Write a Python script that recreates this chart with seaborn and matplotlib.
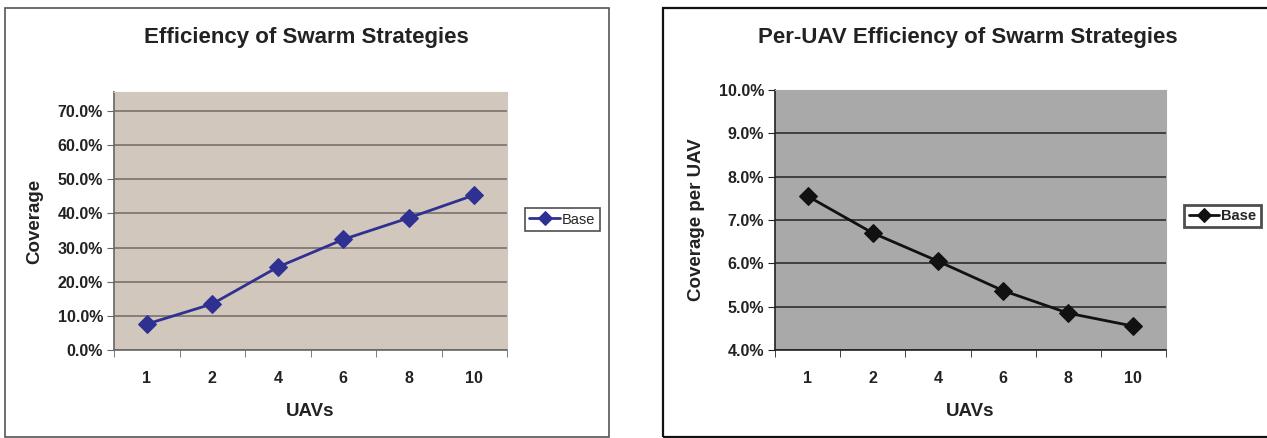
import numpy as np
import pandas as pd
import matplotlib
matplotlib.use('Agg')
import matplotlib.pyplot as plt
import matplotlib.patches as patches
from matplotlib.ticker import PercentFormatter, FixedLocator
import seaborn as sns

# Data
uavs = ['1', '2', '4', '6', '8', '10']
coverage = [7.6, 13.5, 24.3, 32.4, 38.7, 45.4]           # percent
coverage_per_uav = [7.55, 6.7, 6.05, 5.37, 4.85, 4.55]   # percent
series_name = 'Base'

sns.set_style('white')
plt.rcParams['font.family'] = ['Liberation Sans', 'DejaVu Sans']

W, H = 1267, 438
fig = plt.figure(figsize=(W / 100, H / 100), dpi=100)


def px_rect(x0, y0, x1, y1):
    # pixel box (top-left origin) -> figure fraction [l, b, w, h]
    return [x0 / W, (H - y1) / H, (x1 - x0) / W, (y1 - y0) / H]


# Panel borders
fig.patches.append(patches.Rectangle((5 / W, (H - 437) / H), 604 / W, 429 / H,
                                     transform=fig.transFigure, fill=False,
                                     edgecolor='#555555', linewidth=1.2))
fig.patches.append(patches.Rectangle((663 / W, (H - 437) / H), 700 / W, 429 / H,
                                     transform=fig.transFigure, fill=False,
                                     edgecolor='#111111', linewidth=1.6))


def draw_panel(rect, values, ylim, yticks, bg, line_color, grid_color,
               title, title_x, ylabel, legend_box, legend_bold, edge):
    ax = fig.add_axes(rect)
    df = pd.DataFrame({'UAVs': uavs, 'value': values, 'series': series_name})
    sns.lineplot(data=df, x='UAVs', y='value', hue='series', ax=ax,
                 palette=[line_color], marker='D', markersize=9,
                 markeredgecolor=line_color, linewidth=2, sort=False)
    ax.set_facecolor(bg)
    ax.set_xlim(-0.5, len(uavs) - 0.5)
    ax.set_ylim(*ylim)
    ax.yaxis.set_major_locator(FixedLocator(yticks))
    ax.yaxis.set_major_formatter(PercentFormatter(xmax=100, decimals=1))
    ax.grid(axis='y', color=grid_color, linewidth=1.1)
    ax.set_axisbelow(True)

    ax.set_xticks(range(len(uavs)))
    ax.set_xticklabels(uavs)
    ax.set_xticks(np.arange(-0.5, len(uavs)), minor=True)
    ax.tick_params(axis='x', which='major', length=0, pad=15)
    ax.tick_params(axis='x', which='minor', length=5, direction='out',
                   color=edge, bottom=True)
    ax.tick_params(axis='y', length=5, direction='out', color=edge, left=True, pad=3)
    for lab in ax.get_xticklabels() + ax.get_yticklabels():
        lab.set_fontsize(11.5)
        lab.set_fontweight('bold')
        lab.set_color('#222222')

    for side in ['top', 'right']:
        ax.spines[side].set_color(bg)
    for side in ['left', 'bottom']:
        ax.spines[side].set_color(edge)
        ax.spines[side].set_linewidth(1.2)

    ax.set_xlabel('UAVs', fontsize=13.5, fontweight='bold', color='#222222')
    ax.xaxis.set_label_coords(0.5, -0.205)
    ax.set_ylabel(ylabel, fontsize=13.5, fontweight='bold', color='#222222')
    ax.yaxis.set_label_coords(-0.18, 0.5)

    fig.text(title_x / W, 1 - 37 / H, title, ha='center', va='center',
             fontsize=16, fontweight='bold', color='#222222')

    lx0, ly0, lx1, ly1 = legend_box
    leg = ax.legend(loc='center', bbox_to_anchor=px_rect(lx0, ly0, lx1, ly1),
                    bbox_transform=fig.transFigure, frameon=True, fancybox=False,
                    handlelength=2.1, handletextpad=0.15, borderpad=0.3,
                    borderaxespad=0, prop={'size': 10.5,
                                           'weight': 'bold' if legend_bold else 'normal'})
    leg.get_frame().set_edgecolor('#222222')
    leg.get_frame().set_linewidth(2 if legend_bold else 1.2)
    for h in leg.legend_handles:
        h.set_markersize(7)
    return ax


draw_panel(px_rect(114, 92, 507, 350), coverage, (0, 75.6),
           [0, 10, 20, 30, 40, 50, 60, 70], '#d2c7bc', '#2e3192', '#6f6a66',
           'Efficiency of Swarm Strategies', 306, 'Coverage',
           (521, 207, 604, 232), False, '#666666')

draw_panel(px_rect(775, 90, 1166, 350), coverage_per_uav, (4, 10),
           [4, 5, 6, 7, 8, 9, 10], '#a9a9a9', '#111111', '#222222',
           'Per-UAV Efficiency of Swarm Strategies', 968, 'Coverage per UAV',
           (1183, 204, 1262, 228), True, '#222222')

fig.savefig('out.png', dpi=100)
